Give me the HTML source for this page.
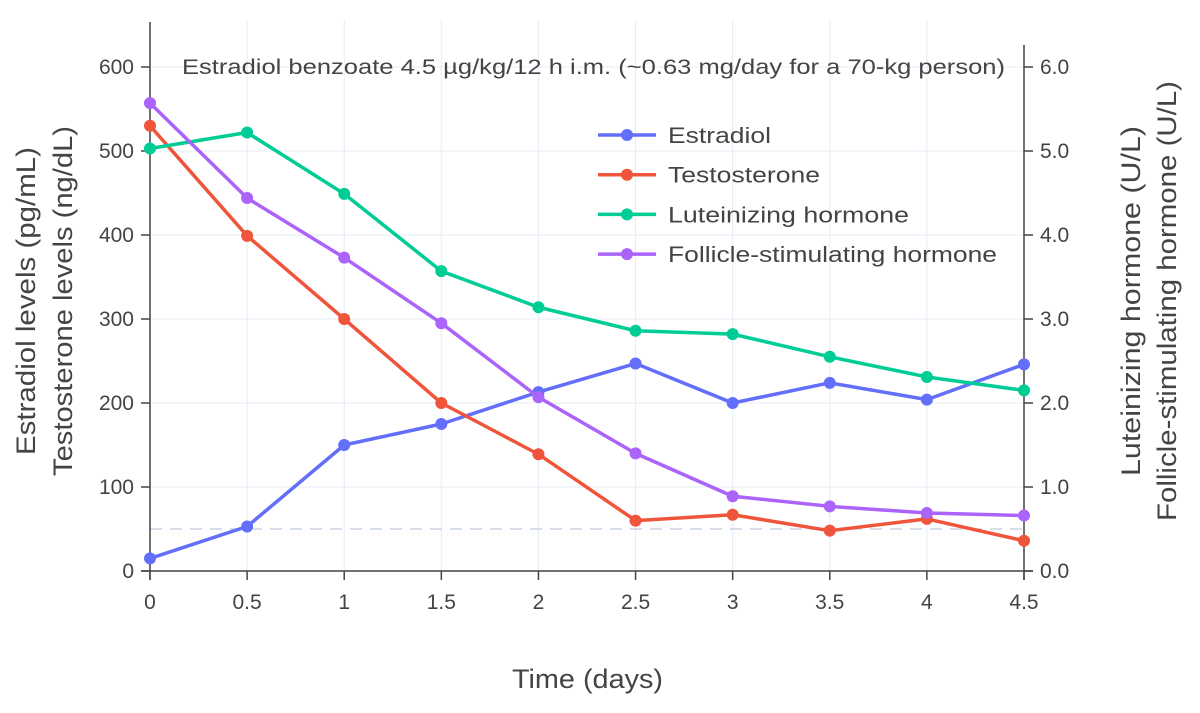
<!DOCTYPE html>
<html><head><meta charset="utf-8"><style>
body{margin:0;background:#fff;}
svg{display:block;font-family:"Liberation Sans",sans-serif;}
</style></head><body>
<svg id="chart" width="1200" height="713"></svg>
<script>
const xs=[0,0.5,1,1.5,2,2.5,3,3.5,4,4.5];
const estradiol=[15,53,150,175,213,247,200,224,204,246];
const testosterone=[530,399,300,200,139,60,67,48,62,36];
const lh=[5.03,5.22,4.49,3.57,3.14,2.86,2.82,2.55,2.31,2.15];
const fsh=[5.57,4.44,3.73,2.95,2.07,1.40,0.89,0.77,0.69,0.66];
const xTicks=[0,0.5,1,1.5,2,2.5,3,3.5,4,4.5];
const xTickLabels=["0","0.5","1","1.5","2","2.5","3","3.5","4","4.5"];
const yTicks=[0,100,200,300,400,500,600];
const y2Ticks=[0,1,2,3,4,5,6];
const y2TickLabels=["0.0","1.0","2.0","3.0","4.0","5.0","6.0"];
const refLine=50;

const svg=document.getElementById('chart');
const NS='http://www.w3.org/2000/svg';
const X=v=>150+v*(1024-150)/4.5;
const Y=v=>571-v*(571-67)/600;
const Y2=v=>571-v*(571-67)/6;
function el(tag,attrs,parent){const e=document.createElementNS(NS,tag);for(const k in attrs)e.setAttribute(k,attrs[k]);(parent||svg).appendChild(e);return e;}
function txt(s,attrs,parent){const e=el('text',attrs,parent);e.textContent=s;return e;}

const grid=el('g',{});


xTicks.forEach(t=>{if(t>0&&t<4.5)el('line',{x1:X(t),x2:X(t),y1:20,y2:571,stroke:'#e5ecf6','stroke-width':1},grid);});
yTicks.forEach(t=>{if(t>0)el('line',{x1:150,x2:1024,y1:Y(t),y2:Y(t),stroke:'#e5ecf6','stroke-width':1},grid);});

const ref=el('line',{x1:150,x2:1024,y1:Y(refLine),y2:Y(refLine),stroke:'#c8d4e3','stroke-width':1.5,'stroke-dasharray':'12,8'});



const axes=el('g',{});


el('line',{x1:150,x2:150,y1:22,y2:580,stroke:'#444','stroke-width':1.5},axes);
el('line',{x1:1024,x2:1024,y1:45,y2:580,stroke:'#444','stroke-width':1.5},axes);
el('line',{x1:141,x2:1033,y1:571,y2:571,stroke:'#444','stroke-width':1.5},axes);
xTicks.forEach((t,i)=>{
  el('line',{x1:X(t),x2:X(t),y1:571,y2:580,stroke:'#444','stroke-width':1.5},axes);
  const l=txt(xTickLabels[i],{x:X(t),y:609,'text-anchor':'middle','font-size':21,fill:'#444'},axes);
  
  
});
yTicks.forEach(t=>{
  el('line',{x1:141,x2:150,y1:Y(t),y2:Y(t),stroke:'#444','stroke-width':1.5},axes);
  const l=txt(String(t),{x:134,y:Y(t)+7,'text-anchor':'end','font-size':21,fill:'#444'},axes);
  
  
});
y2Ticks.forEach((t,i)=>{
  el('line',{x1:1024,x2:1033,y1:Y2(t),y2:Y2(t),stroke:'#444','stroke-width':1.5},axes);
  const l=txt(y2TickLabels[i],{x:1040,y:Y2(t)+7,'font-size':21,fill:'#444'},axes);
  
  
});

function series(vals,sc,color,name){
  const g=el('g',{});
  
  
  el('polyline',{points:vals.map((v,i)=>X(xs[i])+','+sc(v)).join(' '),fill:'none',stroke:color,'stroke-width':3.5,'stroke-linejoin':'round'},g);
  vals.forEach((v,i)=>{
    const c=el('circle',{cx:X(xs[i]),cy:sc(v),r:6,fill:color},g);
    
    
  });
}
series(estradiol,Y,'#636efa','estradiol');
series(testosterone,Y,'#ef553b','testosterone');
series(lh,Y2,'#00cc96','lh');
series(fsh,Y2,'#ab63fa','fsh');

const legend=el('g',{});


[['Estradiol','#636efa',103],['Testosterone','#ef553b',152],['Luteinizing hormone','#00cc96',241],['Follicle-stimulating hormone','#ab63fa',329]].forEach((d,i)=>{
  const y=135+i*39.7;
  const g=el('g',{},legend);
  
  
  el('line',{x1:598,x2:656,y1:y,y2:y,stroke:d[1],'stroke-width':3.5},g);
  el('circle',{cx:627,cy:y,r:6,fill:d[1]},g);
  txt(d[0],{x:668,y:y+8,'font-size':22,fill:'#444',textLength:d[2],lengthAdjust:'spacingAndGlyphs'},g);
});

const title=txt('Estradiol benzoate 4.5 µg/kg/12 h i.m. (~0.63 mg/day for a 70-kg person)',{x:182,y:74,'font-size':21,fill:'#444',textLength:823,lengthAdjust:'spacingAndGlyphs'});



const xt=txt('Time (days)',{x:512,y:688,'font-size':27,fill:'#444',textLength:151,lengthAdjust:'spacingAndGlyphs'});



const yt=el('text',{transform:'translate(0,301) rotate(-90)','text-anchor':'middle','font-size':27,fill:'#444'});


el('tspan',{x:0,y:35,textLength:308,lengthAdjust:'spacingAndGlyphs'},yt).textContent='Estradiol levels (pg/mL)';
el('tspan',{x:0,y:72,textLength:350,lengthAdjust:'spacingAndGlyphs'},yt).textContent='Testosterone levels (ng/dL)';

const y2t=el('text',{transform:'translate(0,301) rotate(-90)','text-anchor':'middle','font-size':27,fill:'#444'});


el('tspan',{x:0,y:1140,textLength:350,lengthAdjust:'spacingAndGlyphs'},y2t).textContent='Luteinizing hormone (U/L)';
el('tspan',{x:0,y:1176,textLength:440,lengthAdjust:'spacingAndGlyphs'},y2t).textContent='Follicle-stimulating hormone (U/L)';
</script>
</body></html>
